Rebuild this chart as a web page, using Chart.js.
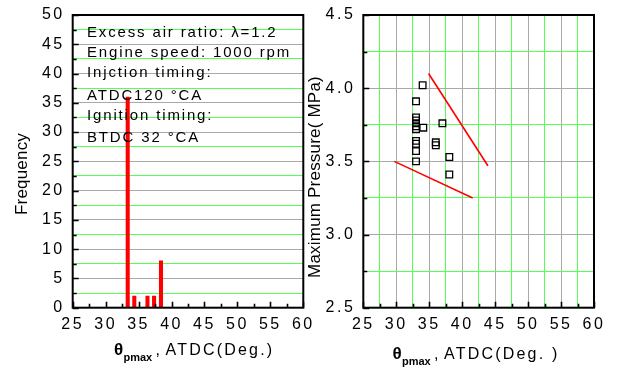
<!DOCTYPE html>
<html>
<head>
<meta charset="utf-8">
<script src="https://cdn.jsdelivr.net/npm/chart.js@4.4.0/dist/chart.umd.min.js"></script>
<style>
html, body { margin: 0; padding: 0; background: #fff; }
#wrap { position: relative; width: 619px; height: 369px; overflow: hidden; }
#freqChart { position: absolute; left: 0; top: 0; }
#pressChart { position: absolute; left: 305px; top: 0; }
</style>
</head>
<body>
<div id="wrap">
  <canvas id="freqChart" width="322" height="369"></canvas>
  <canvas id="pressChart" width="314" height="369"></canvas>
</div>
<script>
// Left: histogram of crank angle at peak pressure
const freqAngles = [33.35, 34.35, 36.35, 37.35, 38.4];
const freqCounts = [36, 2, 2, 2, 8];

// Right: peak pressure vs crank angle
const pmaxAngles = [34.0, 33.0, 33.0, 33.0, 33.0, 33.0, 33.0, 34.1, 37.0, 36.0, 36.0, 33.0, 33.0, 33.0, 33.0, 38.05, 38.05];
const pmaxValues = [4.02, 3.91, 3.80, 3.78, 3.76, 3.74, 3.72, 3.73, 3.76, 3.63, 3.61, 3.64, 3.62, 3.57, 3.50, 3.53, 3.41];
const upperLineX = [34.9, 43.9];
const upperLineY = [4.10, 3.47];
const lowerLineX = [29.7, 41.6];
const lowerLineY = [3.50, 3.25];

// Axes
const angleRange = [25, 60];
const freqRange = [0, 50];
const pressRange = [2.5, 4.5];

const noteLines = [
  "Excess air ratio: \u03bb=1.2",
  "Engine speed: 1000 rpm",
  "Injction timing:",
  "ATDC120 \u00b0CA",
  "Ignition timing:",
  "BTDC 32 \u00b0CA"
];

const FONT = "'Liberation Sans', Arial, sans-serif";
const GRAY = "#a9a9a9";
const GREEN = "#55ff55";

function isMajor(v, step) {
  return Math.abs(v / step - Math.round(v / step)) < 1e-6;
}

// ticks inside, full black frame, letter spacing like the original
function framePlugin(xStep, yStep) {
  return {
    id: "frame",
    beforeDraw(chart) {
      chart.ctx.letterSpacing = "2.5px";
    },
    afterDatasetsDraw(chart) {
      const { ctx, chartArea: a, scales } = chart;
      ctx.save();
      ctx.strokeStyle = "#000";
      ctx.lineWidth = 1.6;
      ctx.beginPath();
      scales.x.ticks.forEach(t => {
        const px = Math.round(scales.x.getPixelForValue(t.value)) + 0.5;
        const len = isMajor(t.value, xStep) ? 6 : 4;
        ctx.moveTo(px, a.bottom);
        ctx.lineTo(px, a.bottom - len);
      });
      scales.y.ticks.forEach(t => {
        const py = Math.round(scales.y.getPixelForValue(t.value)) + 0.5;
        const len = isMajor(t.value, yStep) ? 6 : 4;
        ctx.moveTo(a.left, py);
        ctx.lineTo(a.left + len, py);
      });
      ctx.stroke();
      ctx.lineWidth = 2;
      ctx.strokeRect(a.left, a.top, a.right - a.left, a.bottom - a.top);
      ctx.restore();
    }
  };
}

function drawXTitle(ctx, x0, base, tail) {
  ctx.save();
  ctx.fillStyle = "#000";
  ctx.textBaseline = "alphabetic";
  ctx.letterSpacing = "0px";
  ctx.font = "bold 17px " + FONT;
  ctx.fillText("\u03b8", x0, base);
  ctx.font = "bold 11px " + FONT;
  ctx.fillText("pmax", x0 + 9.5, base + 6);
  ctx.font = "16px " + FONT;
  ctx.fillText(",", x0 + 41.5, base);
  ctx.letterSpacing = "2.2px";
  ctx.fillText(tail, x0 + 51.5, base);
  ctx.restore();
}

function drawYTitle(ctx, x, y, text) {
  ctx.save();
  ctx.fillStyle = "#000";
  ctx.font = "17px " + FONT;
  ctx.letterSpacing = "0.2px";
  ctx.textAlign = "center";
  ctx.textBaseline = "alphabetic";
  ctx.translate(x, y);
  ctx.rotate(-Math.PI / 2);
  ctx.fillText(text, 0, 0);
  ctx.restore();
}

const leftText = {
  id: "leftText",
  afterDraw(chart) {
    const ctx = chart.ctx;
    ctx.save();
    ctx.fillStyle = "#000";
    ctx.font = "15px " + FONT;
    ctx.letterSpacing = "1.85px";
    ctx.textBaseline = "alphabetic";
    const bases = [37.4, 57.4, 76.7, 100, 119.5, 142.4];
    noteLines.forEach((s, i) => ctx.fillText(s, 87, bases[i]));
    ctx.restore();
    drawXTitle(ctx, 114, 355, "ATDC(Deg.)");
    drawYTitle(ctx, 27, 174, "Frequency");
  }
};

const rightText = {
  id: "rightText",
  afterDraw(chart) {
    const ctx = chart.ctx;
    drawXTitle(ctx, 87.5, 359, "ATDC(Deg. )");
    drawYTitle(ctx, 14.5, 177, "Maximum Pressure( MPa)");
  }
};

function xAxis(gridOn) {
  return {
    type: "linear",
    min: angleRange[0], max: angleRange[1],
    offset: false,
    afterFit: s => { s.height = 61.3; s.paddingLeft = 0; s.paddingRight = 0; },
    ticks: {
      stepSize: 2.5, autoSkip: false, maxRotation: 0, padding: 7,
      color: "#000", font: { family: FONT, size: 16 },
      callback: v => isMajor(v, 5) ? String(v) : ""
    },
    grid: {
      display: gridOn, offset: false, drawTicks: false, lineWidth: 1,
      color: c => isMajor(c.tick.value, 5) ? GRAY : GREEN
    },
    border: { display: false }
  };
}

function yAxis(range, step, width, fmt) {
  return {
    min: range[0], max: range[1],
    afterFit: s => { s.width = width; s.paddingTop = 0; s.paddingBottom = 0; },
    ticks: {
      stepSize: step / 2, autoSkip: false, padding: 8,
      color: "#000", font: { family: FONT, size: 16 },
      callback: v => isMajor(v, step) ? fmt(v) : ""
    },
    grid: {
      drawTicks: false, lineWidth: 1,
      color: c => isMajor(c.tick.value, step) ? GRAY : GREEN
    },
    border: { display: false }
  };
}

// Histogram
new Chart(document.getElementById("freqChart"), {
  type: "bar",
  data: {
    datasets: [{
      data: freqAngles.map((a, i) => ({ x: a, y: freqCounts[i] })),
      backgroundColor: "#ff0000",
      borderWidth: 0,
      barThickness: 3.4
    }]
  },
  options: {
    responsive: false, animation: false, devicePixelRatio: 1,
    layout: { padding: { left: 0, right: 18.7, top: 15, bottom: 0 } },
    plugins: { legend: { display: false }, tooltip: { enabled: false } },
    scales: {
      x: xAxis(false),
      y: yAxis(freqRange, 5, 72.7, v => String(v))
    }
  },
  plugins: [framePlugin(5, 5), leftText]
});

// Scatter with guide lines
new Chart(document.getElementById("pressChart"), {
  type: "scatter",
  data: {
    datasets: [
      {
        data: pmaxAngles.map((a, i) => ({ x: a, y: pmaxValues[i] })),
        pointStyle: "rect", pointRadius: 4.7, borderColor: "#000",
        backgroundColor: "rgba(0,0,0,0)", borderWidth: 1.3
      },
      {
        data: upperLineX.map((a, i) => ({ x: a, y: upperLineY[i] })),
        showLine: true, pointRadius: 0, borderColor: "#ff0000", borderWidth: 1.6
      },
      {
        data: lowerLineX.map((a, i) => ({ x: a, y: lowerLineY[i] })),
        showLine: true, pointRadius: 0, borderColor: "#ff0000", borderWidth: 1.6
      }
    ]
  },
  options: {
    responsive: false, animation: false, devicePixelRatio: 1,
    layout: { padding: { left: 0, right: 25, top: 15, bottom: 0 } },
    plugins: { legend: { display: false }, tooltip: { enabled: false } },
    scales: {
      x: xAxis(true),
      y: yAxis(pressRange, 0.5, 58.3, v => v.toFixed(1))
    }
  },
  plugins: [framePlugin(5, 0.5), rightText]
});
</script>
</body>
</html>
